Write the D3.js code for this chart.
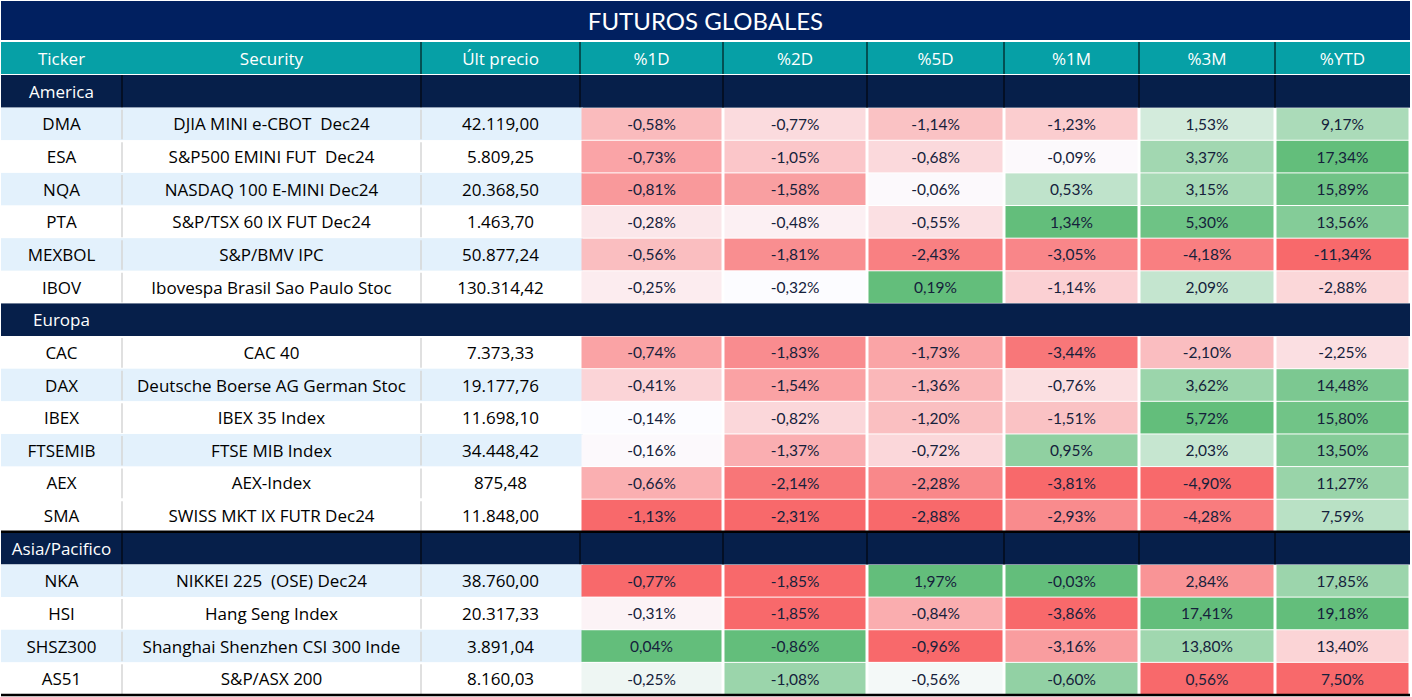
<!DOCTYPE html>
<html>
<head>
<meta charset="utf-8">
<script src="https://cdn.jsdelivr.net/npm/d3@7"></script>
<style>
  html, body { margin: 0; padding: 0; background: #ffffff; }
  svg { display: block; }
  text { white-space: pre; }
</style>
</head>
<body>
<svg id="chart" width="1412" height="697"></svg>
<script>
// ---------------- DATA ----------------
const title = "FUTUROS GLOBALES";
const columnLabels = ["Ticker", "Security", "Últ precio", "%1D", "%2D", "%5D", "%1M", "%3M", "%YTD"];
const groups = ["America", "Europa", "Asia/Pacifico"];
const groupTickers = [
  ["DMA", "ESA", "NQA", "PTA", "MEXBOL", "IBOV"],
  ["CAC", "DAX", "IBEX", "FTSEMIB", "AEX", "SMA"],
  ["NKA", "HSI", "SHSZ300", "AS51"]
];
const tickers = ["DMA", "ESA", "NQA", "PTA", "MEXBOL", "IBOV",
                 "CAC", "DAX", "IBEX", "FTSEMIB", "AEX", "SMA",
                 "NKA", "HSI", "SHSZ300", "AS51"];
const securities = ["DJIA MINI e-CBOT  Dec24", "S&P500 EMINI FUT  Dec24", "NASDAQ 100 E-MINI Dec24",
  "S&P/TSX 60 IX FUT Dec24", "S&P/BMV IPC", "Ibovespa Brasil Sao Paulo Stoc",
  "CAC 40", "Deutsche Boerse AG German Stoc", "IBEX 35 Index", "FTSE MIB Index", "AEX-Index",
  "SWISS MKT IX FUTR Dec24",
  "NIKKEI 225  (OSE) Dec24", "Hang Seng Index", "Shanghai Shenzhen CSI 300 Inde", "S&P/ASX 200"];
const lastPrice = [42119.00, 5809.25, 20368.50, 1463.70, 50877.24, 130314.42,
                   7373.33, 19177.76, 11698.10, 34448.42, 875.48, 11848.00,
                   38760.00, 20317.33, 3891.04, 8160.03];
const pct1D = [-0.58, -0.73, -0.81, -0.28, -0.56, -0.25, -0.74, -0.41, -0.14, -0.16, -0.66, -1.13, -0.77, -0.31, 0.04, -0.25];
const pct2D = [-0.77, -1.05, -1.58, -0.48, -1.81, -0.32, -1.83, -1.54, -0.82, -1.37, -2.14, -2.31, -1.85, -1.85, -0.86, -1.08];
const pct5D = [-1.14, -0.68, -0.06, -0.55, -2.43, 0.19, -1.73, -1.36, -1.20, -0.72, -2.28, -2.88, 1.97, -0.84, -0.96, -0.56];
const pct1M = [-1.23, -0.09, 0.53, 1.34, -3.05, -1.14, -3.44, -0.76, -1.51, 0.95, -3.81, -2.93, -0.03, -3.86, -3.16, -0.60];
const pct3M = [1.53, 3.37, 3.15, 5.30, -4.18, 2.09, -2.10, 3.62, 5.72, 2.03, -4.90, -4.28, 2.84, 17.41, 13.80, 0.56];
const pctYTD = [9.17, 17.34, 15.89, 13.56, -11.34, -2.88, -2.25, 14.48, 15.80, 13.50, 11.27, 7.59, 17.85, 19.18, 13.40, 7.50];
const pctSeries = [pct1D, pct2D, pct5D, pct1M, pct3M, pctYTD];

// ---------------- STYLE CONFIG ----------------
const W = 1412, H = 697;
const colEdges = [1, 122, 421, 580, 723, 867, 1004, 1139, 1275, 1410];
const shadedTickers = ["DMA", "NQA", "MEXBOL", "DAX", "FTSEMIB", "NKA", "SHSZ300"];
const groupsWithRules = ["America", "Asia/Pacifico"];
const colorBlocks = [
  { groups: ["America", "Europa"], mid: "zero" },
  { groups: ["Asia/Pacifico"], mid: "median" }
];
const RED = "#F8696B", WHITE = "#FCFCFF", GREEN = "#63BE7B";
const TITLE_BG = "#012060", HEAD_BG = "#06A0A6", GROUP_BG = "#061f4a", BAND_BG = "#e3f1fc";
const FONT = "'Open Sans', 'Noto Sans', sans-serif";
const TITLE_FONT = "Lato, 'Open Sans', sans-serif";
const PCT_FONT = "Lato, 'Noto Sans', sans-serif";

// ---------------- BUILD ----------------
const loc = d3.formatLocale({ decimal: ",", thousands: ".", grouping: [3], currency: ["", ""], minus: "-" });
const fmtPrice = loc.format(",.2f");
const fmtPct = loc.format(".2f");

const rows = [];
groups.forEach((g, gi) => {
  rows.push({ type: "group", name: g });
  groupTickers[gi].forEach(t => {
    rows.push({ type: "item", group: g, i: tickers.indexOf(t) });
  });
});

const y = d3.scaleBand().domain(d3.range(rows.length)).range([75, 695]).paddingInner(0);

const colorScales = colorBlocks.map(block => {
  const idx = [];
  block.groups.forEach(g => groupTickers[groups.indexOf(g)].forEach(t => idx.push(tickers.indexOf(t))));
  return pctSeries.map(series => {
    const vals = idx.map(i => series[i]);
    const mn = d3.min(vals), mx = d3.max(vals);
    const mid = block.mid === "zero" ? 0 : d3.median(vals);
    if (mid >= mx) return d3.scaleLinear().domain([mn, mx]).range([RED, WHITE]);
    if (mid <= mn) return d3.scaleLinear().domain([mn, mx]).range([WHITE, GREEN]);
    return d3.scaleLinear().domain([mn, mid, mx]).range([RED, WHITE, GREEN]);
  });
});
const blockOf = g => colorBlocks.findIndex(b => b.groups.includes(g));

const svg = d3.select("#chart");
svg.append("rect").attr("width", W).attr("height", H).attr("fill", "#fff");

// Title
svg.append("rect").attr("x", 1).attr("y", 1).attr("width", colEdges[9] - 1).attr("height", 39).attr("fill", TITLE_BG);
svg.append("text").attr("x", (colEdges[0] + colEdges[9]) / 2).attr("y", 20)
  .attr("text-anchor", "middle").attr("dominant-baseline", "central")
  .attr("fill", "#fff").attr("font-family", TITLE_FONT).attr("font-size", 24).text(title);

// Header
const headTop = 42, headH = 32;
svg.append("rect").attr("x", 1).attr("y", headTop).attr("width", colEdges[9] - 1).attr("height", headH).attr("fill", HEAD_BG);
columnLabels.forEach((lab, c) => {
  svg.append("text").attr("x", (colEdges[c] + colEdges[c + 1]) / 2).attr("y", headTop + headH / 2)
    .attr("text-anchor", "middle").attr("dominant-baseline", "central")
    .attr("fill", "#fff").attr("font-family", FONT).attr("font-size", 17).text(lab);
});
colEdges.slice(2, 9).forEach(x => {
  svg.append("line").attr("x1", x).attr("x2", x).attr("y1", headTop).attr("y2", headTop + headH)
    .attr("stroke", "#000").attr("stroke-width", 1);
});

// Body rows
const body = svg.append("g");
rows.forEach((r, ri) => {
  const top = y(ri), h = y.bandwidth();
  const g = body.append("g");
  if (r.type === "group") {
    g.append("rect").attr("x", 1).attr("y", top).attr("width", colEdges[9] - 1).attr("height", h).attr("fill", GROUP_BG);
    g.append("text").attr("x", (colEdges[0] + colEdges[1]) / 2).attr("y", top + h / 2)
      .attr("text-anchor", "middle").attr("dominant-baseline", "central")
      .attr("fill", "#fff").attr("font-family", FONT).attr("font-size", 17).text(r.name);
    if (groupsWithRules.includes(r.name)) {
      colEdges.slice(1, 9).forEach(x => {
        g.append("line").attr("x1", x).attr("x2", x).attr("y1", top).attr("y2", top + h)
          .attr("stroke", "#000").attr("stroke-width", 1);
      });
    }
    return;
  }
  const i = r.i;
  const bg = shadedTickers.includes(tickers[i]) ? BAND_BG : "#fff";
  g.append("rect").attr("x", 1).attr("y", top).attr("width", colEdges[3] + 2).attr("height", h).attr("fill", bg);
  [colEdges[1], colEdges[2]].forEach(x => {
    g.append("line").attr("x1", x).attr("x2", x).attr("y1", top + 2).attr("y2", top + h - 1)
      .attr("stroke", "#d6d6d6").attr("stroke-width", 1.5);
  });
  const texts = [tickers[i], securities[i], fmtPrice(lastPrice[i])];
  texts.forEach((t, c) => {
    g.append("text").attr("x", (colEdges[c] + colEdges[c + 1]) / 2).attr("y", top + h / 2)
      .attr("text-anchor", "middle").attr("dominant-baseline", "central")
      .attr("fill", "#000").attr("font-family", FONT).attr("font-size", 17).text(t);
  });
  const b = blockOf(r.group);
  pctSeries.forEach((series, k) => {
    const c = k + 3;
    const v = series[i];
    g.append("rect").attr("x", colEdges[c] + 1.5).attr("y", top + 0.5)
      .attr("width", colEdges[c + 1] - colEdges[c] - 3).attr("height", h - 1)
      .attr("fill", colorScales[b][k](v));
    g.append("text").attr("x", (colEdges[c] + colEdges[c + 1]) / 2).attr("y", top + h / 2)
      .attr("text-anchor", "middle").attr("dominant-baseline", "central")
      .attr("fill", "#15213b").attr("font-family", PCT_FONT).attr("font-size", 15.5).text(fmtPct(v) + "%");
  });
});

// heavy rules: above Asia block and bottom
const asiaRow = rows.findIndex(r => r.type === "group" && r.name === "Asia/Pacifico");
svg.append("line").attr("x1", 1).attr("x2", colEdges[9]).attr("y1", y(asiaRow)).attr("y2", y(asiaRow))
  .attr("stroke", "#000").attr("stroke-width", 2.5);
svg.append("line").attr("x1", 1).attr("x2", colEdges[9]).attr("y1", 695).attr("y2", 695)
  .attr("stroke", "#000").attr("stroke-width", 2.5);
</script>
</body>
</html>
